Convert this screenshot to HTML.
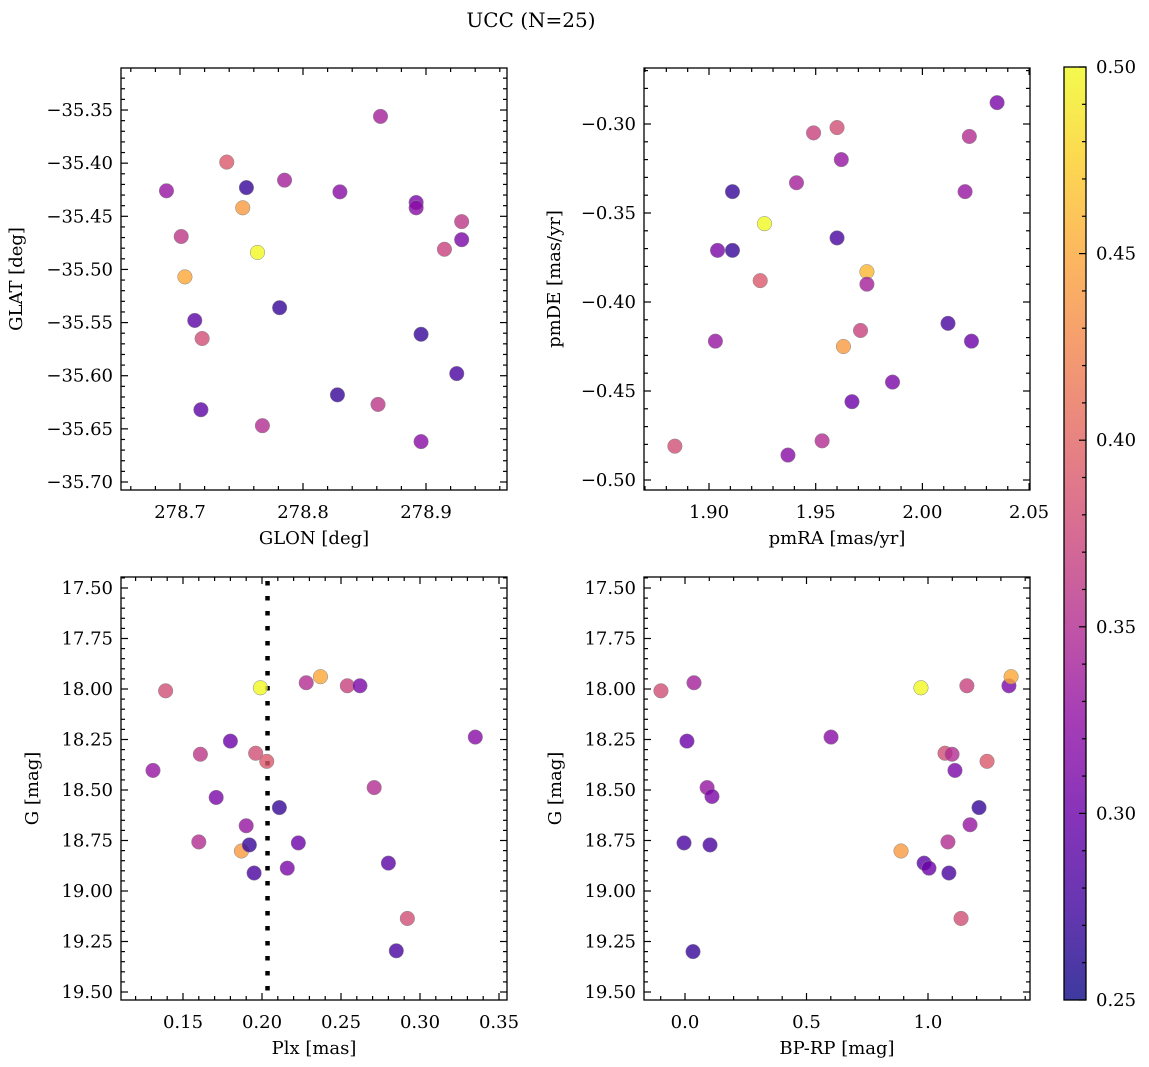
<!DOCTYPE html>
<html><head><meta charset="utf-8"><style>
html,body{margin:0;background:#fff;overflow:hidden;width:1149px;height:1067px;}
svg{display:block;}
svg text{font-family:"DejaVu Serif","Liberation Serif",serif;fill:#000;}
</style></head><body>
<svg id="c" width="1149" height="1067" xmlns="http://www.w3.org/2000/svg">
<text x="531" y="27" font-size="20" text-anchor="middle">UCC (N=25)</text>
</svg>
<script>
// Panel 1: GLON vs GLAT
const glonX=[278.689,278.738,278.754,278.751,278.763,278.785,278.830,278.863,278.701,278.704,278.712,278.718,278.717,278.781,278.767,278.828,278.861,278.892,278.892,278.896,278.896,278.915,278.929,278.929,278.925];
const glatY=[-35.426,-35.399,-35.423,-35.442,-35.484,-35.416,-35.427,-35.356,-35.469,-35.507,-35.548,-35.565,-35.632,-35.536,-35.647,-35.618,-35.627,-35.437,-35.442,-35.662,-35.561,-35.481,-35.455,-35.472,-35.598];
const glonC=[0.33,0.39,0.27,0.44,0.50,0.34,0.32,0.34,0.36,0.45,0.29,0.38,0.29,0.27,0.35,0.27,0.36,0.31,0.32,0.32,0.27,0.37,0.36,0.31,0.28];
// Panel 2: pmRA vs pmDE
const pmraX=[2.035,1.960,1.949,1.962,2.022,1.941,1.911,2.020,1.926,1.904,1.911,1.960,1.924,1.974,1.974,1.971,1.963,1.903,2.012,2.023,1.986,1.967,1.953,1.937,1.884];
const pmdeY=[-0.288,-0.302,-0.305,-0.320,-0.307,-0.333,-0.338,-0.338,-0.356,-0.371,-0.371,-0.364,-0.388,-0.383,-0.390,-0.416,-0.425,-0.422,-0.412,-0.422,-0.445,-0.456,-0.478,-0.486,-0.481];
const pmC=[0.31,0.38,0.37,0.33,0.35,0.34,0.27,0.33,0.50,0.31,0.27,0.28,0.39,0.46,0.34,0.37,0.44,0.33,0.28,0.30,0.31,0.30,0.35,0.32,0.38];
// Panel 3: Plx vs G
const plxX=[0.139,0.131,0.161,0.180,0.171,0.160,0.190,0.187,0.192,0.195,0.196,0.203,0.199,0.211,0.223,0.216,0.228,0.237,0.254,0.262,0.271,0.280,0.292,0.285,0.335];
const plxG=[18.009,18.403,18.323,18.258,18.537,18.757,18.677,18.802,18.772,18.911,18.318,18.358,17.994,18.587,18.762,18.887,17.969,17.939,17.984,17.984,18.488,18.862,19.136,19.296,18.238];
const plxC=[0.38,0.33,0.36,0.30,0.31,0.35,0.33,0.44,0.27,0.28,0.38,0.39,0.50,0.27,0.30,0.31,0.35,0.45,0.37,0.31,0.35,0.29,0.38,0.28,0.32];
const plxLine=0.2035;
// Panel 4: BP-RP vs G
const bprpX=[-0.099,0.037,0.008,-0.004,0.033,0.091,0.111,0.103,0.601,0.889,0.971,0.984,1.004,1.070,1.099,1.111,1.082,1.086,1.136,1.160,1.173,1.210,1.243,1.333,1.342];
const bprpG=[18.009,17.969,18.258,18.762,19.300,18.488,18.532,18.772,18.238,18.802,17.994,18.862,18.887,18.318,18.323,18.403,18.757,18.911,19.136,17.984,18.672,18.587,18.358,17.984,17.939];
const bprpC=[0.38,0.34,0.30,0.28,0.27,0.33,0.31,0.28,0.32,0.44,0.50,0.29,0.30,0.38,0.35,0.31,0.35,0.28,0.38,0.37,0.33,0.27,0.39,0.31,0.45];
// tick labels
const t1x=["278.7","278.8","278.9"], t1y=["-35.35","-35.40","-35.45","-35.50","-35.55","-35.60","-35.65","-35.70"];
const t2x=["1.90","1.95","2.00","2.05"], t2y=["-0.30","-0.35","-0.40","-0.45","-0.50"];
const t3x=["0.15","0.20","0.25","0.30","0.35"], gy=["17.50","17.75","18.00","18.25","18.50","18.75","19.00","19.25","19.50"];
const t4x=["0.0","0.5","1.0"];
const cbTicks=["0.25","0.30","0.35","0.40","0.45","0.50"];

const NS="http://www.w3.org/2000/svg";
const svg=document.getElementById('c');
function mk(tag,at,parent){const e=document.createElementNS(NS,tag);for(const k in at)e.setAttribute(k,at[k]);(parent||svg).appendChild(e);return e;}
const stops=[[13,8,135],[65,4,157],[106,0,168],[143,13,164],[177,42,144],[204,71,120],[225,100,98],[242,132,75],[252,166,54],[252,206,37],[240,249,33]];
function plasma(t){t=Math.max(0,Math.min(1,t))*10;const i=Math.min(9,Math.floor(t)),f=t-i;const a=stops[i],b=stops[i+1];return 'rgb('+a.map((v,k)=>Math.round(v+(b[k]-v)*f)).join(',')+')';}
const cmin=0.25,cmax=0.50;

function panel(o){
  const g=mk('g',{});
  
  
  const sx=v=>o.x0+(v-o.xmin)/(o.xmax-o.xmin)*(o.x1-o.x0);
  const sy=o.flip ? (v=>o.y0+(v-o.ymin)/(o.ymax-o.ymin)*(o.y1-o.y0))
                  : (v=>o.y1-(v-o.ymin)/(o.ymax-o.ymin)*(o.y1-o.y0));
  function ticks(start,step,n,minor,axis){
    for(let i=0;i<n*minor+minor;i++){
      const v=start+(i-minor)*step/minor;
      const maj=((i-minor)%minor===0);
      const L=maj?7:4;
      if(axis==='x'){const p=sx(v);if(p<o.x0-0.1||p>o.x1+0.1)continue;
        mk('line',{x1:p,x2:p,y1:o.y1,y2:o.y1-L,stroke:'#000','stroke-width':1.2},g);
        mk('line',{x1:p,x2:p,y1:o.y0,y2:o.y0+L,stroke:'#000','stroke-width':1.2},g);}
      else{const p=sy(v);if(p<o.y0-0.1||p>o.y1+0.1)continue;
        mk('line',{y1:p,y2:p,x1:o.x0,x2:o.x0+L,stroke:'#000','stroke-width':1.2},g);
        mk('line',{y1:p,y2:p,x1:o.x1,x2:o.x1-L,stroke:'#000','stroke-width':1.2},g);}
    }
  }
  ticks(o.xt0,o.xstep,o.xlab.length+2,o.xminor,'x');
  ticks(o.yt0,o.ystep,o.ylab.length+2,o.yminor,'y');
  o.xlab.forEach((s,i)=>{const t=mk('text',{x:sx(o.xt0+i*o.xstep),y:o.y1+28,'font-size':18,'text-anchor':'middle'},g);t.textContent=s;
    
    });
  o.ylab.forEach((s,i)=>{const t=mk('text',{x:o.x0-8,y:sy(o.yt0+i*o.ystep)+6,'font-size':18,'text-anchor':'end'},g);t.textContent=s.replace('-','\u2212');
    
    });
  const xl=mk('text',{x:(o.x0+o.x1)/2,y:o.y1+54,'font-size':18,'text-anchor':'middle'},g);xl.textContent=o.xt;
  
  
  const yl=mk('text',{x:0,y:0,'font-size':18,'text-anchor':'middle',transform:`translate(${o.yx},${(o.y0+o.y1)/2}) rotate(-90)`},g);yl.textContent=o.yt;
  
  
  if(o.vline!==undefined){const l=mk('line',{x1:sx(o.vline),x2:sx(o.vline),y1:o.y0+4,y2:o.y1,stroke:'#000','stroke-width':4.5,'stroke-dasharray':'4.5 10.5'},g);
    
    }
  o.xs.forEach((v,i)=>{const c=mk('circle',{cx:sx(v),cy:sy(o.ys[i]),r:7.3,fill:plasma((o.cs[i]-cmin)/(cmax-cmin)),'fill-opacity':0.8,stroke:'#888','stroke-width':0.5},g);
    
    });
  const f=mk('rect',{x:o.x0,y:o.y0,width:o.x1-o.x0,height:o.y1-o.y0,fill:'none',stroke:'#000','stroke-width':1.3},g);
  
  
}
panel({name:'glon-glat-panel',x0:121,x1:507,y0:68,y1:490,xmin:278.7-59/1230,xmax:278.7+327/1230,ymin:-35.70-8/1062,ymax:-35.35+42/1062,
  xt0:278.7,xstep:0.1,xminor:5,xlab:t1x,yt0:-35.70,ystep:0.05,yminor:5,ylab:t1y.slice().reverse(),xs:glonX,ys:glatY,cs:glonC,xt:'GLON [deg]',yt:'GLAT [deg]',yx:22});
panel({name:'pm-panel',x0:644,x1:1030,y0:68,y1:490,xmin:1.90-65/2134,xmax:1.90+321/2134,ymin:-0.50-10/1780,ymax:-0.30+56/1780,
  xt0:1.90,xstep:0.05,xminor:5,xlab:t2x,yt0:-0.50,ystep:0.05,yminor:5,ylab:t2y.slice().reverse(),xs:pmraX,ys:pmdeY,cs:pmC,xt:'pmRA [mas/yr]',yt:'pmDE [mas/yr]',yx:560});
panel({name:'plx-g-panel',x0:121,x1:507,y0:577,y1:1000,xmin:0.15-62/1580,xmax:0.15+324/1580,ymin:17.5-11/202,ymax:17.5+412/202,flip:true,
  xt0:0.15,xstep:0.05,xminor:5,xlab:t3x,yt0:17.5,ystep:0.25,yminor:5,ylab:gy,xs:plxX,ys:plxG,cs:plxC,xt:'Plx [mas]',yt:'G [mag]',yx:38,vline:plxLine});
panel({name:'cmd-panel',x0:644,x1:1030,y0:577,y1:1000,xmin:-41/243,xmax:345/243,ymin:17.5-11/202,ymax:17.5+412/202,flip:true,
  xt0:0,xstep:0.5,xminor:5,xlab:t4x,yt0:17.5,ystep:0.25,yminor:5,ylab:gy,xs:bprpX,ys:bprpG,cs:bprpC,xt:'BP-RP [mag]',yt:'G [mag]',yx:561});
// colorbar
const cb=mk('g',{});


const defs=mk('defs',{},cb);
const lg=mk('linearGradient',{id:'pg',x1:0,y1:1,x2:0,y2:0},defs);
for(let i=0;i<=20;i++)mk('stop',{offset:i/20,'stop-color':plasma(i/20),'stop-opacity':0.8},lg);
mk('rect',{x:1064,y:67,width:22,height:933,fill:'url(#pg)',stroke:'#000','stroke-width':1.3},cb);
const cby=v=>1000-(v-cmin)/(cmax-cmin)*933;
for(let i=0;i<=25;i++){const v=cmin+i*0.01;const maj=i%5===0;mk('line',{x1:1086,x2:1086-(maj?7:4),y1:cby(v),y2:cby(v),stroke:'#000','stroke-width':1.2},cb);}
cbTicks.forEach(s=>{const t=mk('text',{x:1096,y:cby(parseFloat(s))+6,'font-size':18},cb);t.textContent=s;
  
  });
</script>
</body></html>
